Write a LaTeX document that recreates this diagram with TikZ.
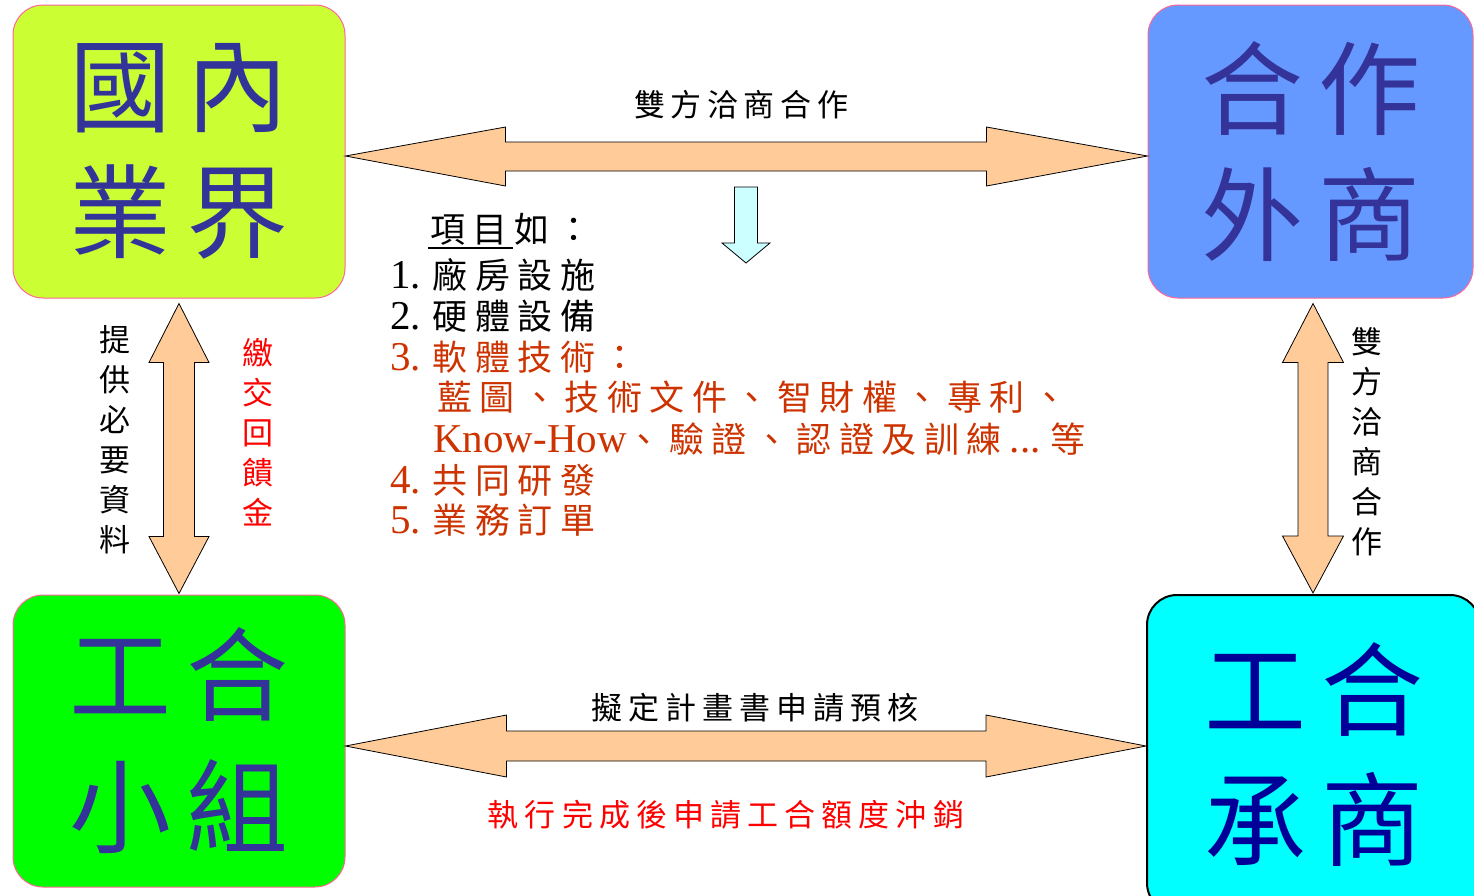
\documentclass[tikz,border=0pt]{standalone}
\usepackage{fontspec}
\setmainfont{Liberation Serif}
\newfontfamily\cjk{Noto Sans CJK TC}
\usetikzlibrary{calc}
\definecolor{tlfill}{HTML}{CCFF33}
\definecolor{trfill}{HTML}{6699FF}
\definecolor{blfill}{HTML}{00FF00}
\definecolor{brfill}{HTML}{00FFFF}
\definecolor{pinkline}{HTML}{FF6699}
\definecolor{boxtext}{HTML}{333399}
\definecolor{boxtextb}{HTML}{000099}
\definecolor{arrowfill}{HTML}{FFCC99}
\definecolor{downfill}{HTML}{CCFFFF}
\definecolor{itemred}{HTML}{CC3300}
\definecolor{labelred}{HTML}{FF0000}
\makeatletter
\def\spc@end{\spc@end@}
\def\spc#1#2{\def\spc@amt{#1}\spc@loop#2\spc@end\unkern}
\def\spc@loop#1{\ifx#1\spc@end\else#1\kern\spc@amt\relax\expandafter\spc@loop\fi}
\makeatother
\newcommand\lt[1]{{\rmfamily\fontsize{41}{41}\selectfont #1}}
\begin{document}
\begin{tikzpicture}[x=1pt,y=-1pt,
  box/.style={draw=pinkline, line width=1pt, rounded corners=30pt, inner sep=0pt, align=center, text=boxtext, font=\cjk\fontsize{102}{126}\selectfont},
  blockarrow/.style={draw=black, line width=0.8pt, fill=arrowfill, line join=miter},
  downarrow/.style={draw=black, line width=0.8pt, fill=downfill},
  lbl/.style={inner sep=0pt, font=\cjk\fontsize{31}{40}\selectfont, align=center},
  item/.style={inner sep=0pt, anchor=west, font=\cjk\fontsize{35}{40}\selectfont}
]
\clip (0,0) rectangle (1474,895);
% boxes
\node[box, fill=tlfill, minimum width=332pt, minimum height=293pt] (tl) at (179,151.5) {\spc{15pt}{國內}\\\spc{15pt}{業界}};
\node[box, fill=trfill, minimum width=325pt, minimum height=293pt] (tr) at (1310.5,151.5) {\spc{15pt}{合作}\\\spc{15pt}{外商}};
\node[box, fill=blfill, minimum width=332pt, minimum height=292pt, font=\cjk\fontsize{102}{132}\selectfont] (bl) at (179,741) {\spc{15pt}{工合}\\\spc{15pt}{小組}};
\node[box, draw=black, line width=2pt, fill=brfill, text=boxtextb, minimum width=333pt, minimum height=318pt, font=\cjk\fontsize{102}{130}\selectfont] (br) at (1313.5,754) {\spc{15pt}{工合}\\\spc{15pt}{承商}};
% connector end points
\coordinate (t1) at ($(tl.east)+(0,4.5)$);
\coordinate (t2) at ($(tr.west)+(0,4.5)$);
\coordinate (b1) at ($(bl.east)+(0,5)$);
\coordinate (b2) at (br.west |- b1);
\coordinate (l1) at ($(tl.south)+(0,5)$);
\coordinate (l2) at ($(bl.north)+(0,-1)$);
\coordinate (r1) at ($(tr.south)+(2.5,5)$);
\coordinate (r2) at ($(br.north)+(-0.5,-1)$);
% top double arrow
\draw[blockarrow] (t1) -- ++(160,-29) -- ++(0,15) -- ($(t2)+(-161,-14)$) -- ++(0,-15) -- (t2) -- ++(-161,30) -- ++(0,-15) -- ($(t1)+(160,15)$) -- ++(0,15) -- cycle;
% bottom double arrow
\draw[blockarrow] (b1) -- ++(161,-31) -- ++(0,16) -- ($(b2)+(-160,-15)$) -- ++(0,-16) -- (b2) -- ++(-160,31) -- ++(0,-16) -- ($(b1)+(161,15)$) -- ++(0,16) -- cycle;
% left vertical double arrow
\draw[blockarrow] (l1) -- ++(30,59) -- ++(-14.5,0) -- ($(l2)+(15.5,-57)$) -- ++(14.5,0) -- (l2) -- ++(-30,-57) -- ++(14.5,0) -- ($(l1)+(-15.5,59)$) -- ++(-14.5,0) -- cycle;
% right vertical double arrow
\draw[blockarrow] (r1) -- ++(30.5,59) -- ++(-15.5,0) -- ($(r2)+(15,-57)$) -- ++(15.5,0) -- (r2) -- ++(-30.5,-57) -- ++(15.5,0) -- ($(r1)+(-15,59)$) -- ++(-15.5,0) -- cycle;
% down arrow
\coordinate (d1) at (746,187);
\coordinate (d2) at (746,263);
\draw[downarrow] ($(d1)+(-11.5,0)$) -- ($(d1)+(11.5,0)$) -- ($(d2)+(11.5,-20)$) -- ($(d2)+(24,-20)$) -- (d2) -- ($(d2)+(-24,-20)$) -- ($(d2)+(-11.5,-20)$) -- cycle;
% labels
\node[lbl] (toplbl) at (741,105) {\spc{5.6pt}{雙方洽商合作}};
\node[lbl] (botlbl) at (755,708) {\spc{6.1pt}{擬定計畫書申請預核}};
\node[lbl, text=labelred] (redlbl) at (726,815) {\spc{6.1pt}{執行完成後申請工合額度沖銷}};
\node[lbl] (leftlbl) at (115,440) {提\\供\\必\\要\\資\\料};
\node[lbl, text=labelred] (redv) at (258,432) {繳\\交\\回\\饋\\金};
\node[lbl] (rightlbl) at (1367,441.5) {雙\\方\\洽\\商\\合\\作};
% list
\node[item] (hd) at (430,229) {\spc{7pt}{項目如：}};
\draw[line width=1.5pt] (428,248) -- (513,248);
\node[item] (i1) at (390,275) {\lt{1.}\hspace{12pt}\spc{7.5pt}{廠房設施}};
\node[item] (i2) at (390,316) {\lt{2.}\hspace{12pt}\spc{7.5pt}{硬體設備}};
\node[item, text=itemred] (i3) at (390,357) {\lt{3.}\hspace{12pt}\spc{7.5pt}{軟體技術：}};
\node[item, text=itemred] (i3a) at (437,397) {\spc{7.5pt}{藍圖、技術文件、智財權、專利、}};
\node[item, text=itemred] (i3b) at (433,439) {\lt{Know-How}\spc{7.5pt}{、驗證、認證及訓練}\kern8pt\lt{...}\kern10pt 等};
\node[item, text=itemred] (i4) at (390,480) {\lt{4.}\hspace{12pt}\spc{7.5pt}{共同研發}};
\node[item, text=itemred] (i5) at (390,520) {\lt{5.}\hspace{12pt}\spc{7.5pt}{業務訂單}};
\end{tikzpicture}
\end{document}
